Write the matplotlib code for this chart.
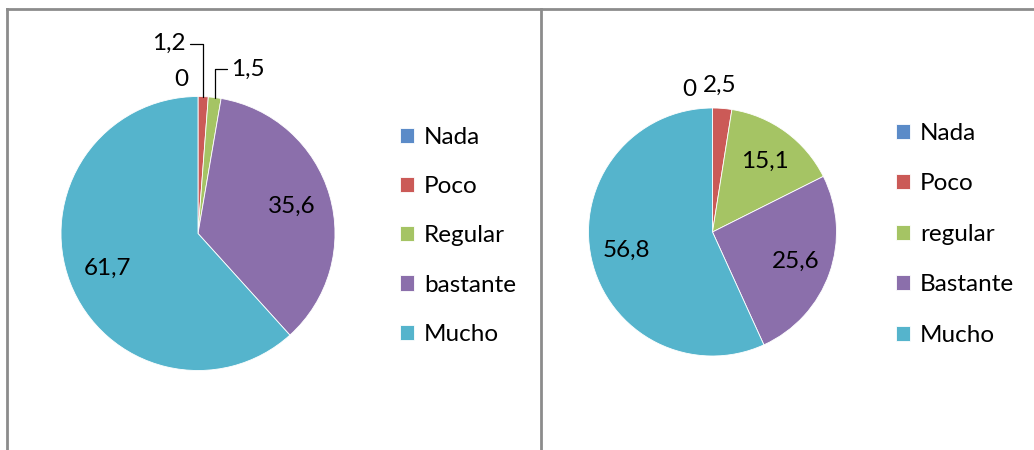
import numpy as np
import matplotlib.pyplot as plt
from matplotlib.lines import Line2D

plt.rcParams['font.family'] = ['Lato', 'DejaVu Sans']

# data
left_labels = ["Nada", "Poco", "Regular", "bastante", "Mucho"]
left_values = [0, 1.2, 1.5, 35.6, 61.7]
right_labels = ["Nada", "Poco", "regular", "Bastante", "Mucho"]
right_values = [0, 2.5, 15.1, 25.6, 56.8]
colors = ["#5B8BC8", "#CB5A57", "#A5C464", "#8B6FAB", "#55B4CC"]

W, H = 1034, 450
FS = 17.5
fig = plt.figure(figsize=(W / 100, H / 100), dpi=100)


def px_axes(cx, cy, r):
    return fig.add_axes([(cx - r) / W, (H - cy - r) / H, 2 * r / W, 2 * r / H])


def fmt(v):
    return f"{v:g}".replace(".", ",")


def draw_pie(cx, cy, r, values, labels, outside, legend_xy, spacing):
    ax = px_axes(cx, cy, r)
    wedges, _ = ax.pie(values, colors=colors, startangle=90, counterclock=False,
                       radius=1, wedgeprops=dict(edgecolor="white", linewidth=0.6))
    ax.set_xlim(-1, 1)
    ax.set_ylim(-1, 1)
    ax.axis("off")
    for i, (w, v) in enumerate(zip(wedges, values)):
        mid = np.deg2rad((w.theta1 + w.theta2) / 2)
        if i in outside:
            (dx, dy), ha, conn = outside[i]
            xy = (np.cos(mid), np.sin(mid))
            arrow = None
            if conn:
                arrow = dict(arrowstyle="-", color="black", lw=0.9,
                             connectionstyle=conn, shrinkA=1, shrinkB=0)
            ax.annotate(fmt(v), xy=xy, xytext=(dx * 0.72, dy * 0.72),
                        textcoords="offset points", ha=ha, va="center",
                        fontsize=FS, arrowprops=arrow)
        else:
            d = 0.71
            ax.text(d * np.cos(mid), d * np.sin(mid), fmt(v), ha="center",
                    va="center", fontsize=FS)
    fig.legend(wedges, labels, loc="upper left",
               bbox_to_anchor=(legend_xy[0] / W, 1 - legend_xy[1] / H),
               frameon=False, fontsize=FS, borderpad=0, borderaxespad=0,
               handlelength=0.58, handleheight=0.58, handletextpad=0.4,
               labelspacing=spacing)


left_outside = {
    0: ((-17, 16.5), "center", None),
    1: ((-17, 53), "right", "angle,angleA=0,angleB=90,rad=0"),
    2: ((16, 28.5), "left", "angle,angleA=0,angleB=90,rad=0"),
}
right_outside = {
    0: ((-23.5, 18), "center", None),
    1: ((-3, 23.5), "center", None),
}

draw_pie(198, 233.5, 137, left_values, left_labels, left_outside, (400, 127), 1.16)
draw_pie(712.5, 232, 124, right_values, right_labels, right_outside, (896, 123), 1.21)

# panel borders
grey = "#8c8c8c"
fig.add_artist(Line2D([7 / W, 1], [1 - 9 / H, 1 - 9 / H], color=grey, lw=2))
fig.add_artist(Line2D([7 / W, 7 / W], [0, 1 - 9 / H], color=grey, lw=2))
fig.add_artist(Line2D([541 / W, 541 / W], [0, 1 - 9 / H], color=grey, lw=2))

fig.savefig("out.png", dpi=100)
